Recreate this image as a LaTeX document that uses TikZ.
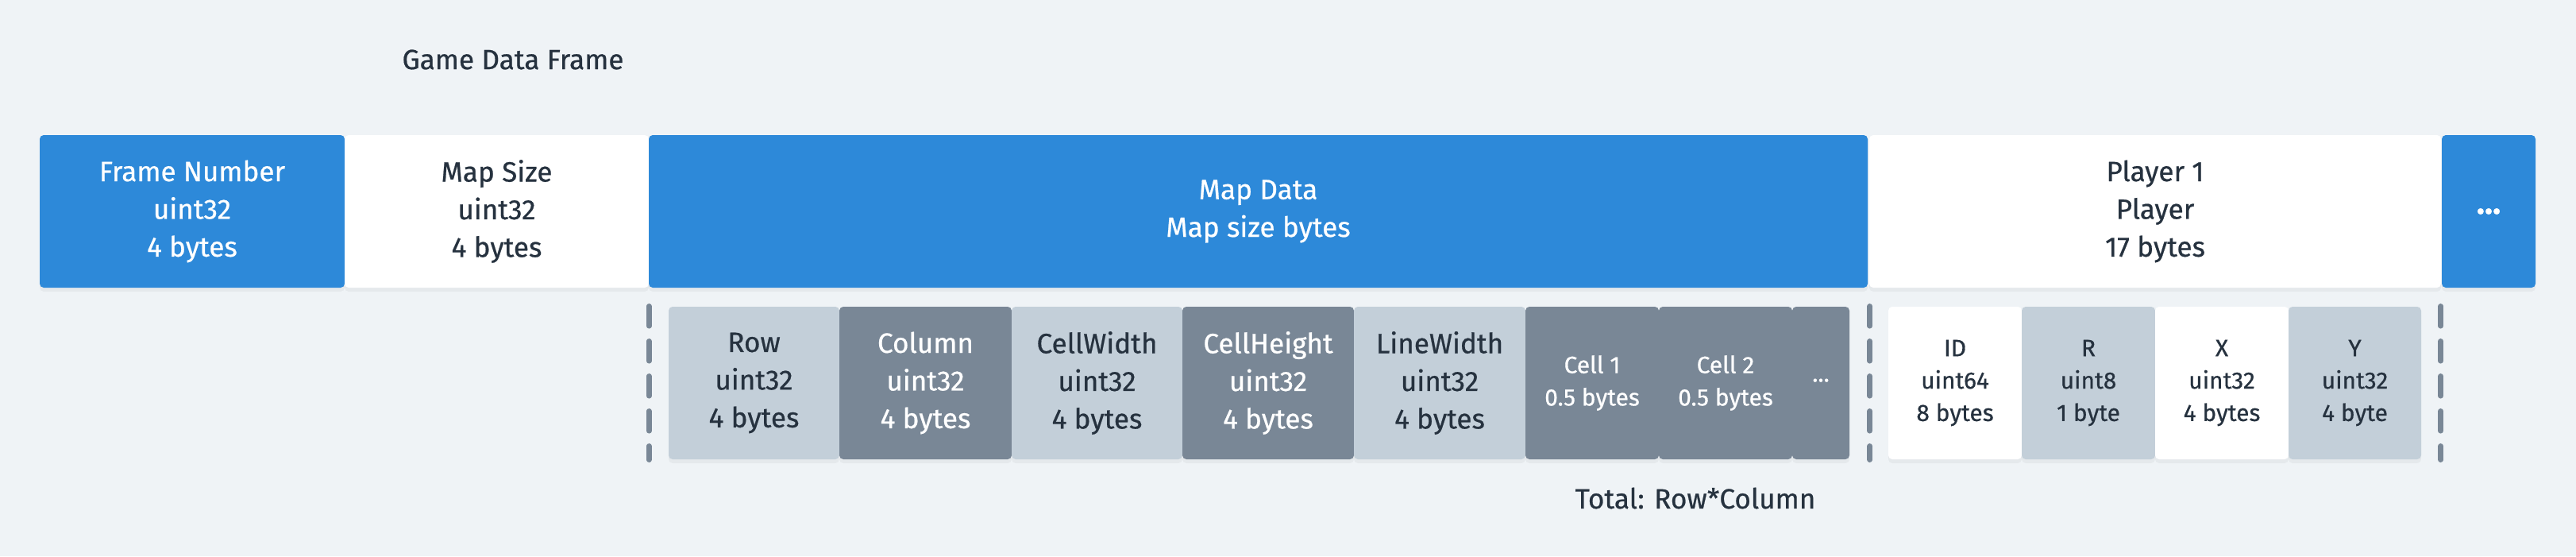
\documentclass[tikz,border=0pt]{standalone}
\usepackage{fontspec}
\setmainfont{Fira Sans}[FakeBold=0.6]
\usetikzlibrary{shadows}
\definecolor{bgcol}{HTML}{EFF3F6}
\definecolor{frameblue}{HTML}{2D89D9}
\definecolor{palefield}{HTML}{C3CFD9}
\definecolor{darkfield}{HTML}{798796}
\definecolor{inkcol}{HTML}{26323F}

\begin{document}
\begin{tikzpicture}[font=\fontsize{10}{13.5}\selectfont,
	field/.style={rectangle, rounded corners=0.05cm, minimum height=1.92cm, inner sep=0pt, align=center, text=inkcol,
		drop shadow={fill=black, opacity=0.04, shadow xshift=0cm, shadow yshift=-0.05cm}},
	blue field/.style={field, fill=frameblue, text=white},
	white field/.style={field, fill=white},
	pale field/.style={field, fill=palefield},
	dark field/.style={field, fill=darkfield, text=white},
	small/.style={font=\fontsize{8.5}{11.6}\selectfont},
	sep/.style={draw=darkfield, line width=0.065cm, line cap=round, dash pattern=on 0.25cm off 0.19cm}]
	\fill[bgcol] (0,0) rectangle (32.44,7);
	\node[text=inkcol] (title) at (6.46,6.25) {Game Data Frame};
	% frame
	\node[blue field, minimum width=3.84cm] (framenum) at (2.42,4.34) {Frame Number\\uint32\\4 bytes};
	\node[white field, minimum width=3.83cm] (mapsize) at (6.255,4.34) {Map Size\\uint32\\4 bytes};
	\node[blue field, minimum width=15.35cm] (mapdata) at (15.845,4.34) {Map Data\\Map size bytes};
	\node[white field, minimum width=7.2cm] (player) at (27.14,4.34) {Player 1\\Player\\17 bytes};
	\node[blue field, font=\fontsize{12}{14}\bfseries, minimum width=1.18cm] (more) at (31.34,4.34) {...};
	% map data
	\node[pale field, minimum width=2.15cm] (row) at (9.495,2.18) {Row\\uint32\\4 bytes};
	\node[dark field, minimum width=2.17cm] (column) at (11.655,2.18) {Column\\uint32\\4 bytes};
	\node[pale field, minimum width=2.15cm] (cellwidth) at (13.815,2.18) {CellWidth\\uint32\\4 bytes};
	\node[dark field, minimum width=2.16cm] (cellheight) at (15.97,2.18) {CellHeight\\uint32\\4 bytes};
	\node[pale field, minimum width=2.16cm] (linewidth) at (18.13,2.18) {LineWidth\\uint32\\4 bytes};
	\node[dark field, small, minimum width=1.68cm] (cellone) at (20.05,2.18) {Cell 1\\0.5 bytes};
	\node[dark field, small, minimum width=1.68cm] (celltwo) at (21.73,2.18) {Cell 2\\0.5 bytes};
	\node[dark field, small, minimum width=0.72cm] (celldots) at (22.93,2.18) {\raisebox{0.07cm}{...}};
	\node[text=inkcol] (total) at (21.35,0.73) {Total: Row*Column};
	% player
	\node[white field, small, minimum width=1.68cm] (pid) at (24.62,2.18) {ID\\uint64\\8 bytes};
	\node[pale field, small, minimum width=1.68cm] (pr) at (26.30,2.18) {R\\uint8\\1 byte};
	\node[white field, small, minimum width=1.68cm] (px) at (27.98,2.18) {X\\uint32\\4 bytes};
	\node[pale field, small, minimum width=1.67cm] (py) at (29.655,2.18) {Y\\uint32\\4 byte};
	\draw[sep] ([xshift=-0.24cm]row.north west) -- ([xshift=-0.24cm]row.south west);
	\draw[sep] ([xshift=0.25cm]celldots.north east) -- ([xshift=0.25cm]celldots.south east);
	\draw[sep] ([xshift=0.24cm]py.north east) -- ([xshift=0.24cm]py.south east);
\end{tikzpicture}
\end{document}
